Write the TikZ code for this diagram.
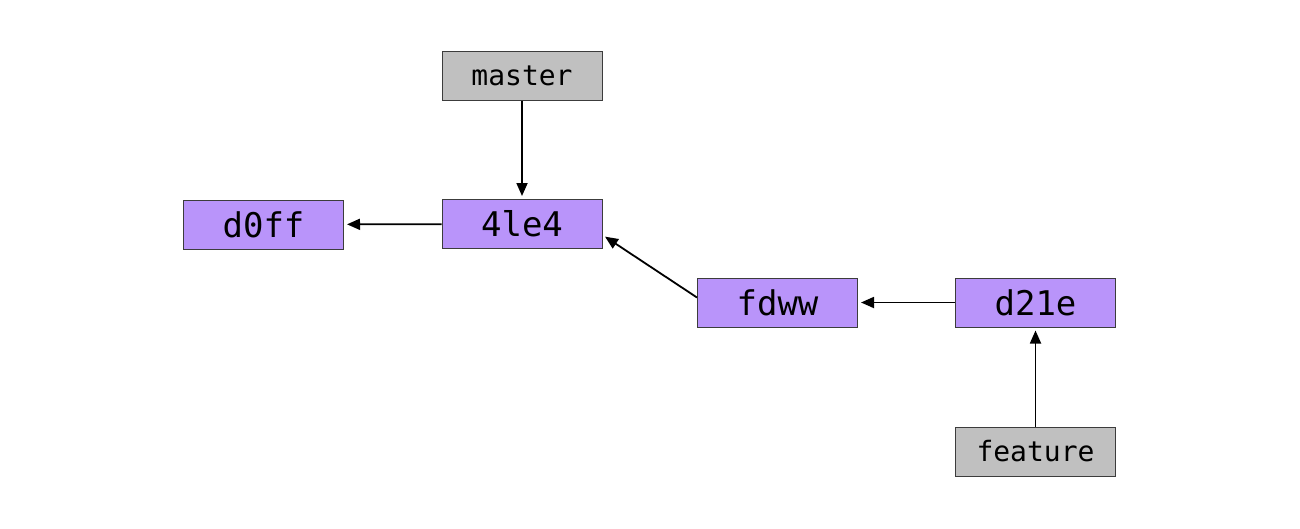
\documentclass[tikz,border=0pt]{standalone}
\usepackage{fontspec}
\setmonofont{DejaVu Sans Mono}
\usetikzlibrary{arrows.meta}
\definecolor{commitfill}{RGB}{185,148,250}
\definecolor{reffill}{RGB}{192,192,192}
\definecolor{edge}{RGB}{60,60,60}
\tikzset{
  box/.style={draw=edge, line width=1pt, minimum width=160pt, minimum height=49pt, inner sep=0pt, font=\ttfamily},
  commit/.style={box, fill=commitfill, font=\ttfamily\fontsize{34}{40}\selectfont},
  ref/.style={box, fill=reffill, font=\ttfamily\fontsize{28}{32}\selectfont},
  link/.style={-{Triangle[length=13pt,width=11pt]}, line width=1.8pt, black, shorten >=3pt}
}
\begin{document}
\begin{tikzpicture}[x=1pt,y=-1pt]
\useasboundingbox (0,0) rectangle (1300,528);
\node[ref] (master) at (522,75.5) {master};
\node[commit] (c4le4) at (522,224) {4le4};
\node[commit] (d0ff) at (263.5,224.5) {d0ff};
\node[commit] (fdww) at (777.5,302.5) {fdww};
\node[commit] (d21e) at (1035.5,302.5) {d21e};
\node[ref] (feature) at (1035.5,451.5) {feature};
\draw[link] (master) -- (c4le4);
\draw[link] (c4le4) -- (d0ff);
\draw[link] ([yshift=5pt]fdww.west) -- ([yshift=-11pt]c4le4.east);
\draw[link] (d21e) -- (fdww);
\draw[link] (feature) -- (d21e);
\end{tikzpicture}
\end{document}
